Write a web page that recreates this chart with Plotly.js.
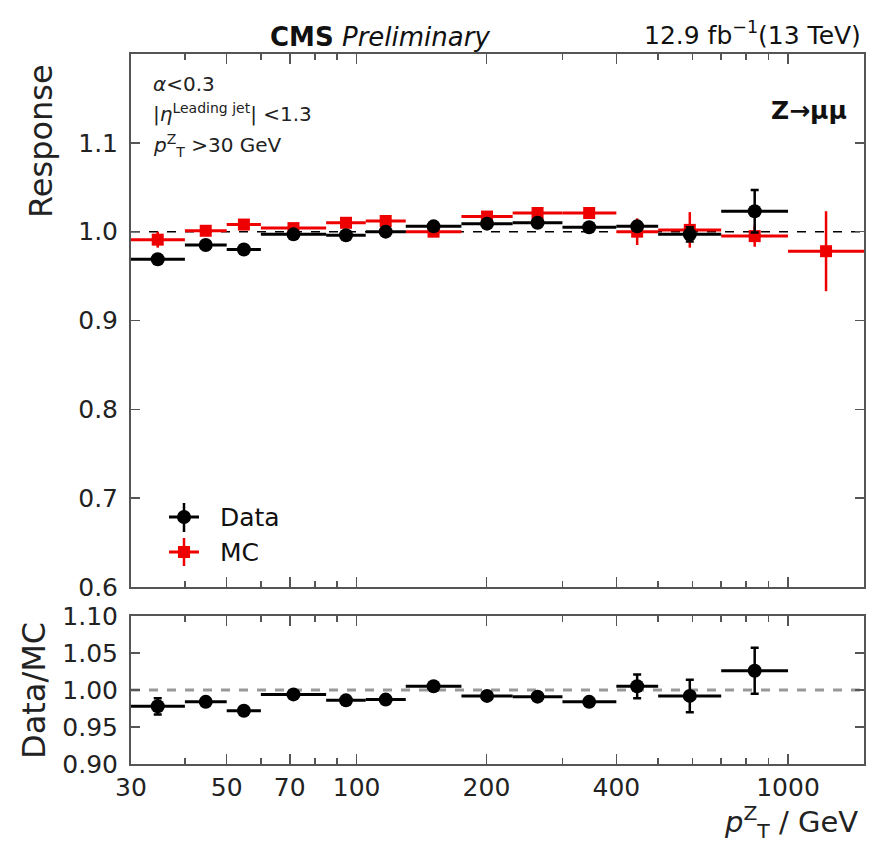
<!DOCTYPE html>
<html>
<head>
<meta charset="utf-8">
<script src="https://cdn.plot.ly/plotly-3.0.1.min.js"></script>
<style>html,body{margin:0;padding:0;background:#fff;}#chart{width:880px;height:848px;}</style>
</head>
<body>
<div id="chart"></div>
<script>
// Bin edges (GeV) and bin centres
const binLo     = [30, 40, 50, 60, 85, 105, 130, 175, 230, 300, 400, 500, 700, 1000];
const binHi     = [40, 50, 60, 85, 105, 130, 175, 230, 300, 400, 500, 700, 1000, 1500];
const binCenter = [34.6, 44.7, 54.8, 71.4, 94.5, 116.8, 150.8, 200.6, 262.7, 346, 447, 592, 837, 1225];

// Response, Data (13 bins)
const dataResp = [0.969, 0.985, 0.980, 0.997, 0.996, 1.000, 1.006, 1.009, 1.010, 1.005, 1.006, 0.997, 1.023];
const dataErr  = [0.003, 0.003, 0.003, 0.003, 0.003, 0.003, 0.003, 0.003, 0.004, 0.004, 0.005, 0.008, 0.024];

// Response, MC (14 bins)
const mcResp = [0.991, 1.001, 1.008, 1.004, 1.010, 1.012, 1.000, 1.017, 1.021, 1.021, 1.000, 1.002, 0.995, 0.978];
const mcErr  = [0.009, 0.005, 0.005, 0.004, 0.005, 0.005, 0.005, 0.005, 0.006, 0.006, 0.015, 0.020, 0.012, 0.045];

// Data/MC ratio (13 bins)
const ratio    = [0.978, 0.984, 0.972, 0.994, 0.986, 0.987, 1.005, 0.992, 0.991, 0.984, 1.005, 0.992, 1.026];
const ratioErr = [0.011, 0.004, 0.004, 0.004, 0.004, 0.004, 0.004, 0.004, 0.004, 0.005, 0.016, 0.022, 0.031];

// Tick labels
const xTickVals  = [30, 50, 70, 100, 200, 400, 1000];
const xTickText  = ['30', '50', '70', '100', '200', '400', '1000'];
const xMinorVals = [40, 60, 80, 90, 300, 500, 600, 700, 800, 900];
const yTickVals  = [0.6, 0.7, 0.8, 0.9, 1.0, 1.1];
const yTickText  = ['0.6', '0.7', '0.8', '0.9', '1.0', '1.1'];
const rTickVals  = [0.90, 0.95, 1.00, 1.05, 1.10];
const rTickText  = ['0.90', '0.95', '1.00', '1.05', '1.10'];

const n = (arr, k) => arr.slice(0, k);
function xErrPlus(k){ return n(binHi,k).map((h,i)=>h-binCenter[i]); }
function xErrMinus(k){ return n(binLo,k).map((l,i)=>binCenter[i]-l); }

const RED = '#ee0000';
const FONT = 'DejaVu Sans';
const AX = '#555';

const traces = [
  {
    x: binCenter, y: mcResp, xaxis: 'x2', yaxis: 'y', type: 'scatter', mode: 'markers', name: 'MC',
    showlegend: false,
    marker: {symbol: 'square', size: 12, color: RED},
    error_x: {type: 'data', symmetric: false, array: xErrPlus(14), arrayminus: xErrMinus(14), color: RED, thickness: 3, width: 0},
    error_y: {type: 'data', array: mcErr, color: RED, thickness: 2.5, width: 0}
  },
  {
    x: n(binCenter,13), y: dataResp, xaxis: 'x2', yaxis: 'y', type: 'scatter', mode: 'markers', name: 'Data',
    showlegend: false,
    marker: {symbol: 'circle', size: 14, color: '#000'},
    error_x: {type: 'data', symmetric: false, array: xErrPlus(13), arrayminus: xErrMinus(13), color: '#000', thickness: 3, width: 0},
    error_y: {type: 'data', array: dataErr, color: '#000', thickness: 2.5, width: 4}
  },
  {
    x: n(binCenter,13), y: ratio, xaxis: 'x', yaxis: 'y2', type: 'scatter', mode: 'markers', name: 'Data/MC',
    showlegend: false,
    marker: {symbol: 'circle', size: 14, color: '#000'},
    error_x: {type: 'data', symmetric: false, array: xErrPlus(13), arrayminus: xErrMinus(13), color: '#000', thickness: 3, width: 0},
    error_y: {type: 'data', array: ratioErr, color: '#000', thickness: 2.5, width: 4}
  }
];

const xCommon = {
  type: 'log', range: [Math.log10(30), Math.log10(1500)],
  tickmode: 'array', tickvals: xTickVals, ticktext: xTickText,
  ticks: 'inside', ticklen: 10, tickwidth: 1.5, tickcolor: AX,
  minor: {tickmode: 'array', tickvals: xMinorVals, ticks: 'inside', ticklen: 6, tickwidth: 1.5, tickcolor: AX, showgrid: false},
  showline: true, linecolor: AX, linewidth: 2, mirror: 'ticks',
  showgrid: false, zeroline: false,
  tickfont: {family: FONT, size: 25, color: '#222'}
};
const yCommon = {
  ticks: 'inside', ticklen: 9, tickwidth: 1.5, tickcolor: AX,
  showline: true, linecolor: AX, linewidth: 2, mirror: 'ticks',
  showgrid: false, zeroline: false, ticklabelstandoff: 6,
  tickfont: {family: FONT, size: 25, color: '#222'}
};

// paper-coordinate helpers for decorations
const px2x = p => (p - 131) / 733;
const py2y = p => (764 - p) / 710;

const layout = {
  width: 880, height: 848,
  margin: {l: 131, r: 16, t: 54, b: 84},
  paper_bgcolor: '#fff', plot_bgcolor: '#fff',
  showlegend: false,
  xaxis: Object.assign({}, xCommon, {domain: [0, 1], anchor: 'y2'}),
  xaxis2: Object.assign({}, xCommon, {domain: [0, 1], anchor: 'y', matches: 'x', showticklabels: false}),
  yaxis: Object.assign({}, yCommon, {domain: [0.2493, 1], anchor: 'x2', range: [0.6, 1.2], tickmode: 'array', tickvals: yTickVals, ticktext: yTickText}),
  yaxis2: Object.assign({}, yCommon, {domain: [0, 0.2085], anchor: 'x', range: [0.9, 1.1], tickmode: 'array', tickvals: rTickVals, ticktext: rTickText}),
  shapes: [
    {type: 'line', xref: 'paper', yref: 'y', x0: 0, x1: 1, y0: 1, y1: 1, line: {color: '#000', width: 1.5, dash: 'dash'}, layer: 'below'},
    {type: 'line', xref: 'paper', yref: 'y2', x0: 0, x1: 1, y0: 1, y1: 1, line: {color: '#999', width: 3, dash: 'dash'}, layer: 'below'},
    // legend glyphs
    {type: 'line', xref: 'paper', yref: 'paper', x0: px2x(169), x1: px2x(199), y0: py2y(517), y1: py2y(517), line: {color: '#000', width: 3}},
    {type: 'line', xref: 'paper', yref: 'paper', x0: px2x(184), x1: px2x(184), y0: py2y(503), y1: py2y(532), line: {color: '#000', width: 2.5}},
    {type: 'circle', xref: 'paper', yref: 'paper', xsizemode: 'pixel', ysizemode: 'pixel', xanchor: px2x(184), yanchor: py2y(517), x0: -7, x1: 7, y0: -7, y1: 7, fillcolor: '#000', line: {color: '#000', width: 0}},
    {type: 'line', xref: 'paper', yref: 'paper', x0: px2x(169), x1: px2x(199), y0: py2y(552), y1: py2y(552), line: {color: RED, width: 3}},
    {type: 'line', xref: 'paper', yref: 'paper', x0: px2x(184), x1: px2x(184), y0: py2y(538), y1: py2y(566), line: {color: RED, width: 2.5}},
    {type: 'rect', xref: 'paper', yref: 'paper', xsizemode: 'pixel', ysizemode: 'pixel', xanchor: px2x(184), yanchor: py2y(552), x0: -6, x1: 6, y0: -6, y1: 6, fillcolor: RED, line: {color: RED, width: 0}}
  ],
  annotations: [
    {xref: 'paper', yref: 'paper', x: px2x(268), y: py2y(37), xanchor: 'left', yanchor: 'middle', showarrow: false,
     text: '<b>CMS</b> <i>Preliminary</i>', font: {family: FONT, size: 26, color: '#111'}},
    {xref: 'paper', yref: 'paper', x: px2x(863), y: py2y(33), xanchor: 'right', yanchor: 'middle', showarrow: false,
     text: '12.9 fb<sup>−1</sup>(13 TeV)', font: {family: FONT, size: 25, color: '#111'}},
    {xref: 'paper', yref: 'paper', x: px2x(151), y: py2y(84), xanchor: 'left', yanchor: 'middle', showarrow: false,
     text: '<i>α</i>&lt;0.3', font: {family: FONT, size: 20, color: '#222'}},
    {xref: 'paper', yref: 'paper', x: px2x(151), y: py2y(113), xanchor: 'left', yanchor: 'middle', showarrow: false,
     text: '|<i>η</i><sup>Leading jet</sup>| &lt;1.3', font: {family: FONT, size: 20, color: '#222'}},
    {xref: 'paper', yref: 'paper', x: px2x(151), y: py2y(145), xanchor: 'left', yanchor: 'middle', showarrow: false,
     text: '<i>p</i><sup>Z</sup><sub>T</sub> &gt;30 GeV', font: {family: FONT, size: 20, color: '#222'}},
    {xref: 'paper', yref: 'paper', x: px2x(849), y: py2y(110), xanchor: 'right', yanchor: 'middle', showarrow: false,
     text: '<b>Z→μμ</b>', font: {family: FONT, size: 25, color: '#111'}},
    {xref: 'paper', yref: 'paper', x: px2x(218), y: py2y(517), xanchor: 'left', yanchor: 'middle', showarrow: false,
     text: 'Data', font: {family: FONT, size: 25, color: '#111'}},
    {xref: 'paper', yref: 'paper', x: px2x(218), y: py2y(552), xanchor: 'left', yanchor: 'middle', showarrow: false,
     text: 'MC', font: {family: FONT, size: 25, color: '#111'}},
    {xref: 'paper', yref: 'paper', x: px2x(41), y: py2y(141), xanchor: 'center', yanchor: 'middle', showarrow: false, textangle: -90,
     text: 'Response', font: {family: FONT, size: 32, color: '#222'}},
    {xref: 'paper', yref: 'paper', x: px2x(34), y: py2y(691), xanchor: 'center', yanchor: 'middle', showarrow: false, textangle: -90,
     text: 'Data/MC', font: {family: FONT, size: 32, color: '#222'}},
    {xref: 'paper', yref: 'paper', x: px2x(860), y: py2y(822), xanchor: 'right', yanchor: 'middle', showarrow: false,
     text: '<i>p</i><sup>Z</sup><sub>T</sub> / GeV', font: {family: FONT, size: 29, color: '#222'}}
  ]
};

Plotly.newPlot('chart', traces, layout, {staticPlot: true, displayModeBar: false});
</script>
</body>
</html>
